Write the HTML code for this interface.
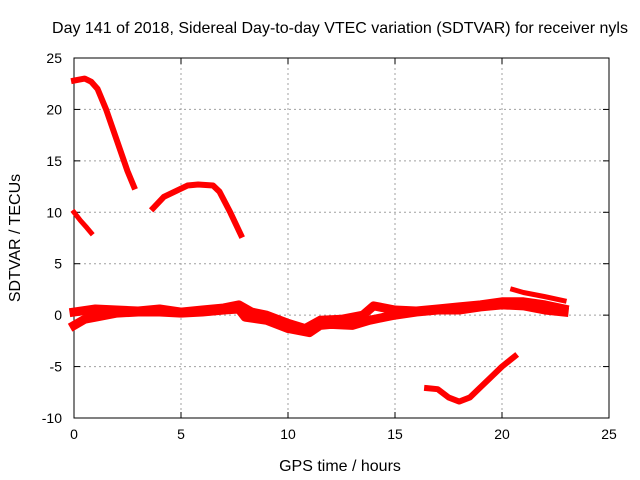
<!DOCTYPE html>
<html><head><meta charset="utf-8"><style>
body{margin:0;background:#fff}
svg{display:block;font-family:"Liberation Sans",sans-serif}
</style></head><body>
<svg id="c" width="640" height="480"></svg>
<script>
const xTicks=[0,5,10,15,20,25];
const yTicks=[-10,-5,0,5,10,15,20,25];
const seriesA=[[0,22.8],[0.5,23],[0.8,22.7],[1.1,22],[1.5,20],[2,17],[2.5,14],[2.8,12.5]];
const seriesB=[[0,10],[0.3,9.2],[0.6,8.5],[0.8,8]];
const seriesC=[[3.7,10.4],[4.2,11.5],[4.8,12.1],[5.3,12.6],[5.8,12.7],[6.5,12.6],[6.8,12],[7.3,10],[7.8,7.8]];
const seriesD=[[16.5,-7.1],[17,-7.2],[17.5,-8],[18,-8.4],[18.5,-8],[19,-7],[19.5,-6],[20,-5],[20.6,-4]];
const seriesE=[[20.5,2.5],[21,2.2],[22,1.8],[22.9,1.4]];
const band1=[[0,0.3],[1,0.6],[2,0.5],[3,0.4],[4,0.6],[5,0.3],[6,0.5],[7,0.7],[7.7,1.0],[8.3,0.3],[9,0],[10,-0.8],[10.8,-1.3],[11.5,-0.5],[12.5,-0.4],[13.5,0],[14,0.9],[15,0.5],[16,0.4],[17,0.6],[18,0.8],[19,1],[20,1.3],[21,1.3],[22,1],[22.9,0.6]];
const band2=[[0,-1],[0.5,-0.4],[1,-0.2],[2,0.2],[3,0.3],[4,0.3],[5,0.2],[6,0.3],[7,0.5],[7.7,0.6],[8,-0.2],[9,-0.5],[10,-1.3],[11,-1.7],[11.5,-1],[12,-0.9],[13,-1],[13.8,-0.5],[14.5,-0.2],[15,0],[16,0.3],[17,0.5],[18,0.5],[19,0.8],[20,1],[21,0.9],[22,0.5],[22.9,0.3]];
const L=74,R=609,T=58,B=418;
const X=v=>L+(v-0)/25*(R-L);
const Y=v=>B-(v+10)/35*(B-T);
const s=document.getElementById('c');
const NS='http://www.w3.org/2000/svg';
function el(t,a,txt){const e=document.createElementNS(NS,t);for(const k in a)e.setAttribute(k,a[k]);if(txt!==undefined)e.textContent=txt;s.appendChild(e);return e;}
for(const t of xTicks){
 if(t>0&&t<25){const g=el('line',{x1:X(t),x2:X(t),y1:T,y2:B,stroke:'#a0a0a0','stroke-dasharray':'2,3'});
 
 }
 const tk=el('text',{x:X(t),y:B+21,'text-anchor':'middle','font-size':14},String(t));
 
 
 el('line',{x1:X(t),x2:X(t),y1:B,y2:B-6,stroke:'#000'});el('line',{x1:X(t),x2:X(t),y1:T,y2:T+6,stroke:'#000'});
}
for(const t of yTicks){
 if(t>-10&&t<25){const g=el('line',{x1:L,x2:R,y1:Y(t),y2:Y(t),stroke:'#a0a0a0','stroke-dasharray':'2,3'});
 
 }
 const tk=el('text',{x:L-12,y:Y(t)+5,'text-anchor':'end','font-size':14},String(t));
 
 
 el('line',{x1:L,x2:L+6,y1:Y(t),y2:Y(t),stroke:'#000'});el('line',{x1:R,x2:R-6,y1:Y(t),y2:Y(t),stroke:'#000'});
}
const fr=el('rect',{x:L,y:T,width:R-L,height:B-T,fill:'none',stroke:'#000'});


const all=[[seriesA,6],[seriesB,5],[seriesC,6],[seriesD,6],[seriesE,5],[band1,9],[band2,9]];
all.forEach(([d,w],i)=>{
 const p=el('polyline',{points:d.map(q=>X(q[0])+','+Y(q[1])).join(' '),fill:'none',stroke:'#ff0000','stroke-width':w,'stroke-linejoin':'round','stroke-linecap':'square'});
 
 
});
const ti=el('text',{x:340,y:33,'text-anchor':'middle','font-size':16},'Day 141 of 2018, Sidereal Day-to-day VTEC variation (SDTVAR) for receiver nyls');


const xt=el('text',{x:340,y:471,'text-anchor':'middle','font-size':16},'GPS time / hours');


const yt=el('text',{x:0,y:0,'text-anchor':'middle','font-size':16,transform:'translate(20,238) rotate(-90)'},'SDTVAR / TECUs');


</script>
</body></html>
